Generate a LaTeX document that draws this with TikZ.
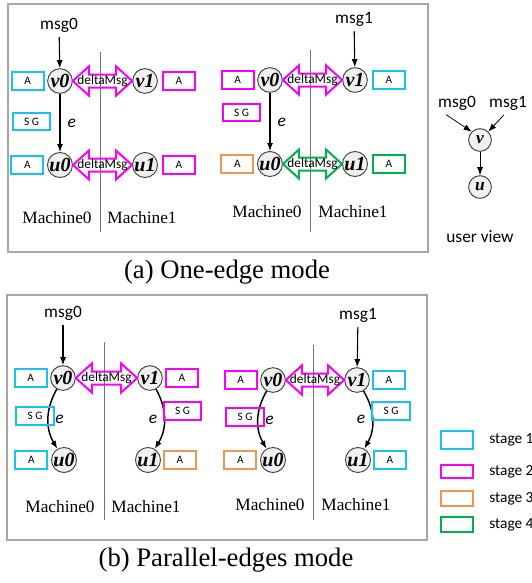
\documentclass[tikz,border=0pt]{standalone}
\usepackage{fontspec}
\setmainfont{Liberation Serif}
\setsansfont{Carlito}
\usetikzlibrary{positioning,calc,arrows.meta}

\definecolor{stcyan}{RGB}{20,195,240}
\definecolor{stmag}{RGB}{250,0,250}
\definecolor{storange}{RGB}{240,150,80}
\definecolor{stgreen}{RGB}{0,176,80}

\begin{document}
\begin{tikzpicture}[
        x=0.75pt, y=-0.75pt,
        every node/.style={font=\sffamily\fontsize{13}{13}\selectfont},
        vtx/.style={circle, draw=black!75, fill=black!6, line width=0.7pt,
            minimum size=18.5pt, inner sep=0pt,
            font=\rmfamily\bfseries\itshape\fontsize{15}{15}\selectfont},
        abox/.style={draw=#1, line width=1.5pt, minimum width=24pt,
            minimum height=13.5pt, inner sep=0pt,
            font=\sffamily\fontsize{8.5}{8.5}\selectfont},
        sgbox/.style={abox=#1, minimum width=28pt, minimum height=13pt},
        link/.style={-{Latex[length=6pt,width=4.5pt]}, line width=0.8pt},
        curvelink/.style={link, line width=1.1pt},
        elabel/.style={font=\sffamily\itshape\fontsize{13}{13}\selectfont},
        divider/.style={draw=black!55, line width=0.6pt},
        frame/.style={draw=black!35, line width=0.8pt},
        mach/.style={font=\rmfamily\fontsize{13}{13}\selectfont},
        legtext/.style={font=\sffamily\fontsize{11.5}{11.5}\selectfont},
        dtext/.style={font=\sffamily\fontsize{10}{10}\selectfont, inner sep=0pt},
        dmsg/.style={draw=#1, line width=1.5pt, line join=miter,
            to path={(\tikztostart.east) -- ++(16,-14.5) -- ++(0,8)
                -- ($(\tikztotarget.west)+(-16,-6.5)$) -- ++(0,-8)
                -- (\tikztotarget.west) -- ++(-16,14.5) -- ++(0,-8)
                -- ($(\tikztostart.east)+(16,6.5)$) -- ++(0,8) -- cycle}}
    ]

    \useasboundingbox (0,0) rectangle (532,583);

    % =====================================================
    % (a) One-edge mode
    % =====================================================
    \draw[frame] (8,4) rectangle (428,252);

    % left panel
    \draw[divider] (100,52) -- (100,232);
    \node (la-msg) at (59,25) {msg0};
    \node[vtx] (la-v0) at (60,81) {v0};
    \node[vtx] (la-v1) at (145,81) {v1};
    \node[vtx] (la-u0) at (60,165) {u0};
    \node[vtx] (la-u1) at (145,165) {u1};

    \draw[link] (la-msg) -- (la-v0);
    \draw[link] (la-v0) -- node[elabel, right=2pt] {e} (la-u0);

    \draw[dmsg=stmag] (la-v0) to (la-v1);
    \node[dtext] at ($(la-v0)!0.5!(la-v1)$) {deltaMsg};
    \draw[dmsg=stmag] (la-u0) to (la-u1);
    \node[dtext] at ($(la-u0)!0.5!(la-u1)$) {deltaMsg};

    \node[abox=stcyan, left=2pt of la-v0] (la-av0) {A};
    \node[abox=stmag, right=3pt of la-v1] (la-av1) {A};
    \node[sgbox=stcyan] (la-sg) at (31.5,121.5) {S G};
    \node[abox=stcyan, left=2pt of la-u0] (la-au0) {A};
    \node[abox=stmag, right=3pt of la-u1] (la-au1) {A};

    \node[mach] (la-m0) at (57,218) {Machine0};
    \node[mach] (la-m1) at (142,218) {Machine1};

    % right panel
    \draw[divider] (310,50) -- (310,232);
    \node (ra-msg) at (354,19) {msg1};
    \node[vtx] (ra-v0) at (270,80) {v0};
    \node[vtx] (ra-v1) at (355,80) {v1};
    \node[vtx] (ra-u0) at (270,164) {u0};
    \node[vtx] (ra-u1) at (355,164) {u1};

    \draw[link] (ra-msg) -- (ra-v1);
    \draw[link] (ra-v0) -- node[elabel, right=2pt] {e} (ra-u0);

    \draw[dmsg=stmag] (ra-v0) to (ra-v1);
    \node[dtext] at ($(ra-v0)!0.5!(ra-v1)$) {deltaMsg};
    \draw[dmsg=stgreen] (ra-u0) to (ra-u1);
    \node[dtext] at ($(ra-u0)!0.5!(ra-u1)$) {deltaMsg};

    \node[abox=stmag, left=2pt of ra-v0] (ra-av0) {A};
    \node[abox=stcyan, right=3pt of ra-v1] (ra-av1) {A};
    \node[sgbox=stmag] (ra-sg) at (241.5,112.5) {S G};
    \node[abox=storange, left=2pt of ra-u0] (ra-au0) {A};
    \node[abox=stgreen, right=3pt of ra-u1] (ra-au1) {A};

    \node[mach] (ra-m0) at (267,212) {Machine0};
    \node[mach] (ra-m1) at (353,212) {Machine1};

    % user view
    \node (uv-msg0) at (457,103) {msg0};
    \node (uv-msg1) at (508,103) {msg1};
    \node[vtx, minimum size=17pt, font=\rmfamily\bfseries\itshape\fontsize{13}{13}\selectfont]
        (uv-v) at (480,140) {v};
    \node[vtx, minimum size=17pt, font=\rmfamily\bfseries\itshape\fontsize{13}{13}\selectfont]
        (uv-u) at (480,187) {u};
    \draw[link, line width=0.6pt] ([xshift=-8pt]uv-msg0.south) -- (uv-v.north west);
    \draw[link, line width=0.6pt] ([xshift=-3pt]uv-msg1.south) -- (uv-v.north east);
    \draw[link, line width=0.6pt] (uv-v) -- (uv-u);
    \node (uv-text) at (480,237) {user view};

    \node[font=\rmfamily\fontsize{20}{20}\selectfont] (cap-a) at (227,272)
    {(a) One-edge mode};

    % =====================================================
    % (b) Parallel-edges mode
    % =====================================================
    \draw[frame] (7,295) rectangle (427,540);

    % left panel
    \draw[divider] (104,342) -- (104,520);
    \node (lb-msg) at (63,313) {msg0};
    \node[vtx] (lb-v0) at (63,378) {v0};
    \node[vtx] (lb-v1) at (150,378) {v1};
    \node[vtx] (lb-u0) at (64,460) {u0};
    \node[vtx] (lb-u1) at (148,460) {u1};

    \draw[link] (lb-msg) -- (lb-v0);
    \draw[curvelink] (lb-v0) to[bend right=30] node[elabel, right=1.5pt] {e} (lb-u0);
    \draw[curvelink] (lb-v1) to[bend left=30] node[elabel, left=1.5pt] {e} (lb-u1);

    \draw[dmsg=stmag] (lb-v0) to (lb-v1);
    \node[dtext] at ($(lb-v0)!0.5!(lb-v1)$) {deltaMsg};

    \node[abox=stcyan, left=2pt of lb-v0] (lb-av0) {A};
    \node[abox=stmag, right=1.5pt of lb-v1] (lb-av1) {A};
    \node[sgbox=stcyan] (lb-sg0) at (35,416) {S G};
    \node[sgbox=stmag] (lb-sg1) at (182.5,411) {S G};
    \node[abox=stcyan, left=2pt of lb-u0] (lb-au0) {A};
    \node[abox=storange, right=1.5pt of lb-u1] (lb-au1) {A};

    \node[mach] (lb-m0) at (60,507) {Machine0};
    \node[mach] (lb-m1) at (146,507) {Machine1};

    % right panel
    \draw[divider] (313,345) -- (313,520);
    \node (rb-msg) at (358,315) {msg1};
    \node[vtx] (rb-v0) at (273,380) {v0};
    \node[vtx] (rb-v1) at (357,380) {v1};
    \node[vtx] (rb-u0) at (273,460) {u0};
    \node[vtx] (rb-u1) at (358,460) {u1};

    \draw[link] (rb-msg) -- (rb-v1);
    \draw[curvelink] (rb-v0) to[bend right=30] node[elabel, right=1.5pt] {e} (rb-u0);
    \draw[curvelink] (rb-v1) to[bend left=30] node[elabel, left=1.5pt] {e} (rb-u1);

    \draw[dmsg=stmag] (rb-v0) to (rb-v1);
    \node[dtext] at ($(rb-v0)!0.5!(rb-v1)$) {deltaMsg};

    \node[abox=stmag, left=2pt of rb-v0] (rb-av0) {A};
    \node[abox=stcyan, right=1.5pt of rb-v1] (rb-av1) {A};
    \node[sgbox=stmag] (rb-sg0) at (245,417) {S G};
    \node[sgbox=stcyan] (rb-sg1) at (391,411) {S G};
    \node[abox=storange, left=2pt of rb-u0] (rb-au0) {A};
    \node[abox=stcyan, right=1.5pt of rb-u1] (rb-au1) {A};

    \node[mach] (rb-m0) at (270,505) {Machine0};
    \node[mach] (rb-m1) at (356,505) {Machine1};

    % legend
    \node[abox=stcyan, minimum height=13.5pt] (lg1) at (457,440) {};
    \node[abox=stmag, minimum height=9.5pt] (lg2) at (457,471.5) {};
    \node[abox=storange, minimum height=11pt] (lg3) at (457,498.5) {};
    \node[abox=stgreen, minimum height=11pt] (lg4) at (457,524.5) {};
    \node[legtext, right=8pt of lg1] (lg1-t) {stage 1};
    \node[legtext, right=8pt of lg2] (lg2-t) {stage 2};
    \node[legtext, right=8pt of lg3] (lg3-t) {stage 3};
    \node[legtext, right=8pt of lg4] (lg4-t) {stage 4};

    \node[font=\rmfamily\fontsize{20}{20}\selectfont] (cap-b) at (226,560)
    {(b) Parallel-edges mode};

\end{tikzpicture}
\end{document}
